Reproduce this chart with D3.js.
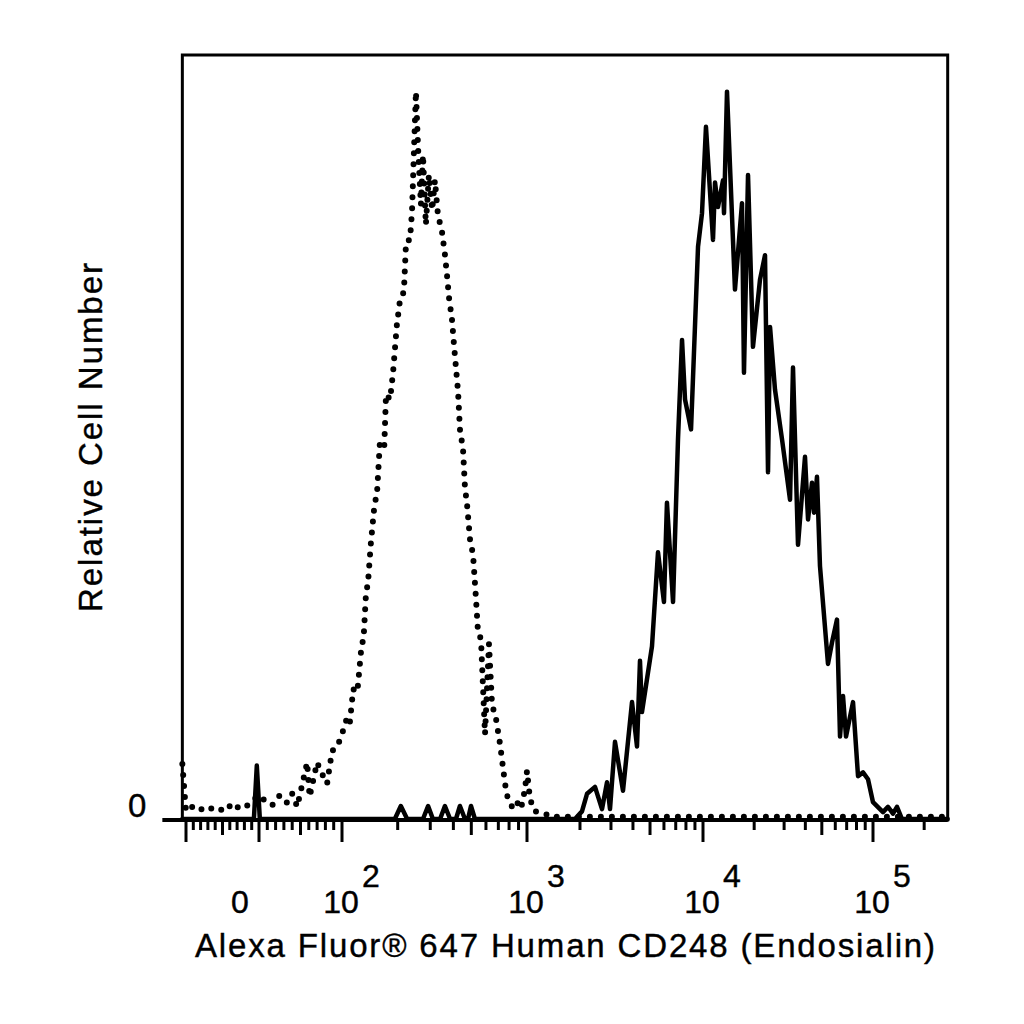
<!DOCTYPE html>
<html>
<head>
<meta charset="utf-8">
<script src="https://cdn.jsdelivr.net/npm/d3@7"></script>
<style>
  html, body { margin: 0; padding: 0; background: #fff; }
  #chart { width: 1024px; height: 1024px; }
  text { font-family: "Liberation Sans", Arial, sans-serif; fill: #000; stroke: #000; stroke-width: 0.4px; }
</style>
</head>
<body>
<div id="chart"></div>
<script>
(function () {
  "use strict";

  // ── Data ────────────────────────────────────────────────────────────────
  // Stained sample (solid line): fluorescence value vs relative count
  const solidX = [-105, -81, -40, -7, -3, 1, 49, 193, 208, 225, 274, 292, 310, 339, 360, 384, 413, 434, 462, 480,
    498, 523, 1185, 1874, 2053, 2193, 2434, 2668, 2848, 2962, 3162, 3511, 3950, 4217, 4385, 4500, 5130, 5550,
    6000, 6240, 6757, 7210, 7600, 7905, 8550, 9370, 9870, 10410, 11450, 11770, 12250, 13110, 13290, 13840,
    15420, 16960, 17420, 18400, 19680, 21640, 23160, 24120, 24790, 26520, 29160, 32500, 33840, 36210, 39810,
    41480, 43770, 44970, 46830, 48770, 54360, 57390, 61400, 63960, 66620, 69390, 76290, 81640, 87360, 93470,
    100000, 114500, 122500, 131100, 138400, 148100, 275000];
  const solidY = [0, 0, 0, 0, 7.0, 0, 0, 0, 1.7, 0, 0, 1.7, 0, 0, 1.7, 0, 0, 1.7, 0, 0,
    1.7, 0, 0, 0, 1.0, 3.3, 4.2, 1.3, 4.8, 1.3, 10.1, 3.7, 15.3, 9.5, 20.7, 14.0, 22.6, 34.9,
    28.4, 41.4, 28.4, 49.7, 62.7, 54.9, 51.0, 74.9, 79.3, 90.6, 75.8, 83.3, 80.1, 83.6, 79.3, 95.2,
    69.3, 80.6, 58.4, 84.3, 61.8, 70.6, 73.8, 45.4, 64.4, 56.2, 49.7, 41.8, 59.1, 35.9, 47.4,
    39.2, 44.0, 40.1, 44.8, 33.1, 20.3, 23.1, 26.1, 10.8, 16.1, 10.8, 15.3, 5.6, 6.1, 5.2,
    2.2, 0.9, 1.6, 0.7, 1.6, 0, 0];

  // Isotype control (dotted line)
  const dottedX = [-105, -100, -88, -74, -60, -47, -36, -26, -15, -7, 1, 7, 16, 25, 34, 40, 46, 58, 61, 70,
    76, 82, 88, 94, 100, 106, 110, 115, 121, 127, 131, 135, 138, 143, 149, 155, 160, 169, 173, 182,
    189, 198, 206, 216, 222, 233, 239, 245, 251, 258, 267, 274, 284, 295, 307, 318, 330, 347, 360, 370,
    379, 393, 403, 413, 424, 434, 451, 462, 474, 492, 511, 530, 543, 564, 593, 623, 647, 680, 715, 761,
    789, 830, 872, 928, 975, 1000, 1040, 1110, 1265, 1350, 275000];
  const dottedY = [7.2, 1.0, 1.8, 1.0, 1.6, 1.0, 2.1, 1.3, 1.8, 2.6, 3.1, 2.4, 1.8, 3.1, 2.1, 3.3, 1.6, 7.4, 2.9, 7.4,
    5.9, 4.6, 8.9, 9.4, 11.1, 13.1, 12.4, 17.0, 16.6, 22.2, 23.9, 29.8, 30.7, 35.9, 40.5, 43.1, 49.0, 48.4, 55.6, 54.9,
    58.6, 64.7, 68.0, 69.0, 75.6, 75.8, 79.5, 87.6, 95.2, 87.6, 80.4, 86.9, 77.8, 84.3, 79.7, 83.6, 79.1, 76.9, 73.9, 71.0,
    68.2, 65.4, 62.1, 59.1, 55.9, 51.0, 48.4, 43.4, 41.2, 36.6, 34.6, 28.8, 24.6, 23.5, 11.1, 22.9, 15.0, 13.1, 9.8, 4.6,
    2.6, 1.6, 2.4, 1.3, 3.9, 6.3, 2.6, 1.0, 0.7, 0.3, 0.3];

  // Axis ticks
  const xLabelValues = [0, 100, 1000, 10000, 100000];
  const xLabelExp    = ["", "2", "3", "4", "5"];
  const majorTicks   = [-100, 0, 100, 1000, 10000, 100000];
  const midTicks     = [-50, 50, 500, 5000, 50000];
  const minorTicks   = [-90, -80, -70, -60, -40, -30, -20, -10, 10, 20, 30, 40, 60, 70, 80, 90,
    200, 300, 400, 600, 700, 800, 900, 2000, 3000, 4000, 6000, 7000, 8000, 9000,
    20000, 30000, 40000, 60000, 70000, 80000, 90000, 200000];

  // ── Layout ──────────────────────────────────────────────────────────────
  const W = 1024, H = 1024;
  const plotTop = 55;
  const plotBottom = 819;
  const xMin = -105, xMax = 275000;

  // Biexponential-style axis: linear around zero, logarithmic above 10^2
  const xLow  = d3.scaleLinear().domain([-100, 0, 100]).range([186, 259, 342]);
  const xHigh = d3.scaleLog().domain([100, 1000, 10000, 100000]).range([342, 527, 703, 873]);
  const x = v => (v < 100 ? xLow(v) : xHigh(v));

  const y = d3.scaleLinear().domain([0, 100]).range([plotBottom, plotTop]);

  const plotLeft = x(xMin);
  const plotRight = x(xMax);

  const svg = d3.select("#chart")
    .append("svg")
    .attr("width", W)
    .attr("height", H)
    .attr("viewBox", `0 0 ${W} ${H}`);

  // Frame
  svg.append("rect")
    .attr("x", plotLeft)
    .attr("y", plotTop)
    .attr("width", plotRight - plotLeft)
    .attr("height", plotBottom + 1 - plotTop)
    .attr("fill", "none")
    .attr("stroke", "#000")
    .attr("stroke-width", 3);

  // Histograms
  const line = d3.line()
    .x(d => x(d[0]))
    .y(d => y(d[1]));

  svg.append("path")
    .datum(d3.zip(dottedX, dottedY))
    .attr("d", line)
    .attr("fill", "none")
    .attr("stroke", "#000")
    .attr("stroke-width", 6)
    .attr("stroke-linecap", "round")
    .attr("stroke-dasharray", "0 11");

  svg.append("path")
    .datum(d3.zip(solidX, solidY))
    .attr("d", line)
    .attr("fill", "none")
    .attr("stroke", "#000")
    .attr("stroke-width", 4.5)
    .attr("stroke-linejoin", "round")
    .attr("stroke-linecap", "round");

  // X axis line (runs past the frame to make the y "0" tick)
  const axisY = plotBottom + 1;
  svg.append("line")
    .attr("x1", plotLeft - 20).attr("x2", plotRight)
    .attr("y1", axisY).attr("y2", axisY)
    .attr("stroke", "#000")
    .attr("stroke-width", 4);

  const tickG = svg.append("g").attr("stroke", "#000").attr("stroke-width", 3);
  [[majorTicks, 22], [midTicks, 15], [minorTicks, 10]].forEach(([vals, len]) => {
    tickG.selectAll(null)
      .data(vals)
      .join("line")
      .attr("x1", d => x(d)).attr("x2", d => x(d))
      .attr("y1", axisY).attr("y2", axisY + len);
  });

  // X tick labels
  const labelBase = 913;
  const labelSize = 32;
  xLabelValues.forEach((v, i) => {
    if (xLabelExp[i] === "") {
      svg.append("text")
        .attr("x", x(v) - 19)
        .attr("y", labelBase)
        .attr("text-anchor", "middle")
        .attr("font-size", labelSize)
        .text("0");
    } else {
      svg.append("text")
        .attr("x", x(v) - 1)
        .attr("y", labelBase)
        .attr("text-anchor", "middle")
        .attr("font-size", labelSize)
        .text("10");
      svg.append("text")
        .attr("x", x(v) + 20)
        .attr("y", labelBase - 26)
        .attr("font-size", labelSize)
        .text(xLabelExp[i]);
    }
  });

  // Y tick label
  svg.append("text")
    .attr("x", plotLeft - 36)
    .attr("y", y(0) - 2)
    .attr("text-anchor", "end")
    .attr("font-size", 33)
    .text("0");

  // Axis titles
  svg.append("text")
    .attr("x", 565)
    .attr("y", 957)
    .attr("text-anchor", "middle")
    .attr("font-size", 33)
    .attr("textLength", 740)
    .attr("lengthAdjust", "spacing")
    .text("Alexa Fluor® 647 Human CD248 (Endosialin)");

  svg.append("text")
    .attr("transform", `translate(102,${(263 + 612) / 2}) rotate(-90)`)
    .attr("text-anchor", "middle")
    .attr("font-size", 33)
    .attr("textLength", 349)
    .attr("lengthAdjust", "spacing")
    .text("Relative Cell Number");

})();
</script>
</body>
</html>
